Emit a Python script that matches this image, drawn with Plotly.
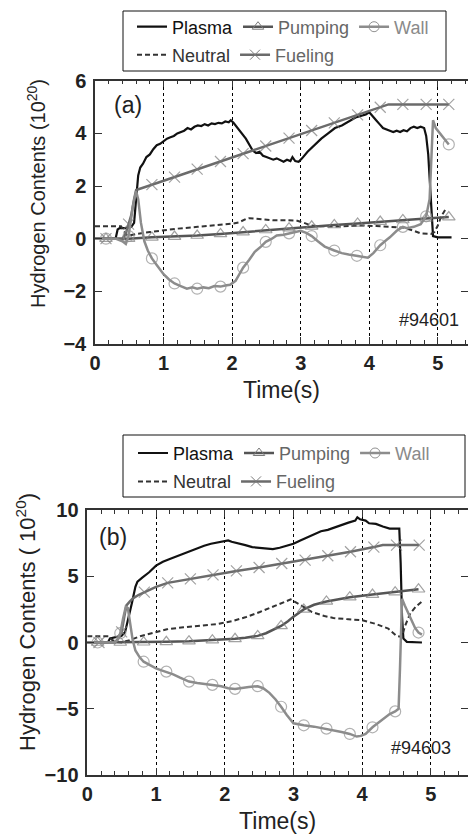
import plotly.graph_objects as go

W, H = 468, 835

# ---------------- Panel (a)  #94601 ----------------
t_plasma_a = [0, 0.30, 0.33, 0.36, 0.45, 0.53, 0.57, 0.60, 0.63, 0.66, 0.70, 0.75, 0.80, 0.85, 0.90, 0.95,
              1.00, 1.05, 1.10, 1.15, 1.20, 1.25, 1.30, 1.35, 1.40, 1.45, 1.50, 1.55, 1.60, 1.65, 1.70, 1.75,
              1.80, 1.85, 1.90, 1.95, 1.98, 2.02, 2.10, 2.20, 2.30, 2.35, 2.40, 2.45, 2.50, 2.55, 2.60, 2.65,
              2.70, 2.75, 2.80, 2.85, 2.88, 2.92, 2.97, 3.02, 3.10, 3.20, 3.30, 3.40, 3.50, 3.60, 3.70, 3.80,
              3.90, 3.95, 4.00, 4.03, 4.10, 4.15, 4.20, 4.30, 4.35, 4.40, 4.45, 4.50, 4.55, 4.60, 4.65, 4.70,
              4.75, 4.80, 4.83, 4.86, 4.89, 4.91, 4.93, 5.00, 5.20]
v_plasma_a = [0, 0, 0.35, 0.40, 0.40, 0.45, 0.60, 1.40, 2.40, 2.70, 2.85, 3.10, 3.20, 3.40, 3.55, 3.60,
              3.70, 3.80, 3.85, 3.90, 4.00, 4.05, 4.10, 4.20, 4.15, 4.25, 4.30, 4.28, 4.35, 4.30, 4.38, 4.35,
              4.40, 4.38, 4.45, 4.42, 4.50, 4.40, 4.15, 3.80, 3.35, 3.25, 3.30, 3.15, 3.10, 3.05, 3.00, 3.05,
              2.98, 2.92, 3.00, 2.95, 3.10, 2.95, 2.92, 3.05, 3.30, 3.55, 3.80, 4.00, 4.20, 4.30, 4.45, 4.60,
              4.68, 4.72, 4.80, 4.70, 4.50, 4.35, 4.20, 4.10, 4.05, 4.10, 4.05, 4.12, 4.08, 4.20, 4.25, 4.20,
              4.25, 4.20, 3.90, 3.20, 2.00, 1.00, 0.10, 0.05, 0.05]

t_neutral_a = [0, 0.38, 0.42, 0.46, 0.50, 0.60, 0.80, 1.00, 1.20, 1.50, 1.80, 2.00, 2.10, 2.20, 2.25, 2.40,
               2.60, 2.80, 2.95, 3.05, 3.15, 3.30, 3.50, 3.70, 3.90, 4.10, 4.30, 4.50, 4.65, 4.75, 4.90, 4.95,
               5.00, 5.05, 5.12]
v_neutral_a = [0.47, 0.47, 0.30, 0.15, 0.12, 0.18, 0.25, 0.32, 0.38, 0.45, 0.52, 0.57, 0.62, 0.75, 0.78, 0.74,
               0.70, 0.70, 0.68, 0.60, 0.50, 0.47, 0.46, 0.48, 0.50, 0.48, 0.45, 0.42, 0.30, 0.20, 0.18, 0.25,
               0.50, 0.85, 1.15]

t_pump_a = [0, 0.16, 0.49, 0.83, 1.16, 1.49, 1.83, 2.16, 2.49, 2.83, 3.16, 3.49, 3.83, 4.16, 4.49, 4.83, 5.16]
v_pump_a = [0, 0, 0, 0.05, 0.08, 0.12, 0.18, 0.25, 0.33, 0.40, 0.47, 0.52, 0.58, 0.65, 0.71, 0.77, 0.82]
mk_pump_a = [0.16, 0.49, 0.83, 1.16, 1.49, 1.83, 2.16, 2.49, 2.83, 3.16, 3.49, 3.83, 4.16, 4.49, 4.83, 5.16]

t_fuel_a = [0, 0.16, 0.40, 0.45, 0.49, 0.53, 0.57, 0.60, 0.83, 1.16, 1.49, 1.83, 2.16, 2.49, 2.83, 3.16,
            3.49, 3.83, 4.16, 4.28, 4.49, 4.83, 5.16]
v_fuel_a = [0, 0, 0, 0.20, 0.55, 0.90, 1.50, 1.85, 2.05, 2.34, 2.64, 2.93, 3.23, 3.52, 3.82, 4.11,
            4.40, 4.70, 4.99, 5.10, 5.10, 5.10, 5.10]
mk_fuel_a = [0.16, 0.49, 0.83, 1.16, 1.49, 1.83, 2.16, 2.49, 2.83, 3.16, 3.49, 3.83, 4.16, 4.49, 4.83, 5.16]

t_wall_a = [0, 0.16, 0.30, 0.40, 0.45, 0.49, 0.55, 0.60, 0.63, 0.67, 0.72, 0.77, 0.83, 0.90, 1.00, 1.08,
            1.16, 1.25, 1.34, 1.42, 1.49, 1.58, 1.66, 1.74, 1.83, 1.90, 1.97, 2.05, 2.16, 2.25, 2.33, 2.42,
            2.49, 2.58, 2.65, 2.75, 2.83, 2.90, 3.00, 3.08, 3.16, 3.25, 3.35, 3.49, 3.60, 3.70, 3.82, 3.90,
            3.98, 4.06, 4.16, 4.25, 4.30, 4.40, 4.49, 4.55, 4.65, 4.75, 4.83, 4.88, 4.91, 4.93, 4.97, 5.03,
            5.10, 5.16]
v_wall_a = [0, 0, 0, -0.10, -0.20, 0.10, 1.20, 1.80, 1.50, 0.60, -0.10, -0.45, -0.75, -1.00, -1.35, -1.55,
            -1.70, -1.80, -1.90, -1.85, -1.90, -1.85, -1.88, -1.80, -1.82, -1.78, -1.75, -1.60, -1.10, -0.80, -0.50, -0.30,
            -0.12, 0.00, 0.12, 0.15, 0.20, 0.25, 0.30, 0.22, 0.10, -0.10, -0.30, -0.45, -0.55, -0.60, -0.65, -0.70,
            -0.72, -0.55, -0.25, -0.05, 0.05, 0.30, 0.45, 0.40, 0.45, 0.55, 0.85, 1.50, 3.00, 4.50, 4.20, 4.00,
            3.80, 3.58]
mk_wall_a = [0.16, 0.49, 0.83, 1.16, 1.49, 1.83, 2.16, 2.49, 2.83, 3.16, 3.49, 3.82, 4.16, 4.49, 4.83, 5.16]

# ---------------- Panel (b)  #94603 ----------------
t_plasma_b = [0, 0.30, 0.33, 0.40, 0.50, 0.55, 0.60, 0.65, 0.70, 0.73, 0.80, 0.90, 1.00, 1.10, 1.20, 1.30,
              1.40, 1.50, 1.60, 1.70, 1.80, 1.90, 2.00, 2.05, 2.10, 2.20, 2.30, 2.40, 2.50, 2.60, 2.70, 2.80,
              2.90, 3.00, 3.10, 3.20, 3.30, 3.40, 3.50, 3.60, 3.70, 3.80, 3.90, 3.93, 3.97, 4.05, 4.10, 4.20,
              4.30, 4.40, 4.50, 4.54, 4.56, 4.58, 4.60, 4.65, 4.87]
v_plasma_b = [0, 0, 0.30, 0.40, 0.50, 0.80, 1.80, 3.00, 4.20, 4.60, 4.90, 5.30, 5.80, 6.10, 6.30, 6.50,
              6.70, 6.95, 7.10, 7.30, 7.45, 7.55, 7.65, 7.70, 7.60, 7.50, 7.35, 7.20, 7.15, 7.10, 7.05, 7.15,
              7.30, 7.45, 7.70, 7.95, 8.20, 8.40, 8.50, 8.70, 8.90, 9.05, 9.20, 9.45, 9.30, 9.20, 9.00, 8.95,
              8.75, 8.60, 8.60, 8.60, 6.00, 2.00, 0.30, 0.05, 0.00]

t_neutral_b = [0, 0.32, 0.36, 0.42, 0.50, 0.60, 0.77, 1.00, 1.16, 1.40, 1.64, 1.90, 2.12, 2.30, 2.51, 2.75,
               2.96, 3.08, 3.27, 3.45, 3.58, 3.80, 4.00, 4.20, 4.38, 4.50, 4.58, 4.62, 4.70, 4.78, 4.87]
v_neutral_b = [0.47, 0.47, 0.20, 0.05, 0.00, 0.15, 0.47, 0.80, 1.00, 1.15, 1.25, 1.40, 1.63, 1.90, 2.30, 2.80,
               3.25, 2.90, 2.30, 2.00, 1.85, 1.75, 1.68, 1.40, 1.05, 0.50, 0.42, 1.20, 2.20, 2.70, 3.10]

t_pump_b = [0, 0.15, 0.48, 0.82, 1.15, 1.48, 1.82, 2.15, 2.30, 2.48, 2.60, 2.70, 2.82, 2.92, 3.00, 3.15,
            3.30, 3.48, 3.65, 3.82, 4.15, 4.48, 4.82]
v_pump_b = [0, 0, 0, 0.02, 0.05, 0.10, 0.18, 0.28, 0.36, 0.50, 0.70, 0.95, 1.25, 1.60, 1.95, 2.50,
            2.85, 3.10, 3.28, 3.42, 3.62, 3.80, 4.02]
mk_pump_b = [0.15, 0.48, 0.82, 1.15, 1.48, 1.82, 2.15, 2.48, 2.82, 3.15, 3.48, 3.82, 4.15, 4.48, 4.82]

t_fuel_b = [0, 0.17, 0.40, 0.45, 0.50, 0.54, 0.57, 0.62, 0.67, 0.75, 0.83, 1.00, 1.17, 1.33, 1.50, 1.83,
            2.17, 2.50, 2.83, 3.17, 3.50, 3.83, 4.17, 4.30, 4.50, 4.83]
v_fuel_b = [0, 0, 0, 0.30, 0.80, 2.00, 2.80, 3.10, 3.35, 3.60, 3.80, 4.20, 4.50, 4.65, 4.80, 5.10,
            5.40, 5.66, 5.96, 6.22, 6.55, 6.85, 7.20, 7.35, 7.35, 7.35]
mk_fuel_b = [0.17, 0.50, 0.83, 1.17, 1.50, 1.83, 2.17, 2.50, 2.83, 3.17, 3.50, 3.83, 4.17, 4.50, 4.83]

t_wall_b = [0, 0.15, 0.40, 0.44, 0.48, 0.52, 0.56, 0.59, 0.62, 0.66, 0.70, 0.76, 0.82, 0.90, 1.00, 1.08,
            1.15, 1.25, 1.35, 1.48, 1.60, 1.70, 1.82, 1.95, 2.05, 2.15, 2.25, 2.35, 2.48, 2.56, 2.65, 2.74,
            2.82, 2.90, 3.00, 3.08, 3.15, 3.30, 3.40, 3.48, 3.60, 3.70, 3.82, 3.92, 3.98, 4.05, 4.15, 4.30,
            4.40, 4.48, 4.53, 4.55, 4.58, 4.62, 4.67, 4.72, 4.77, 4.82, 4.87]
v_wall_b = [0, 0, 0, 0.20, 0.70, 1.80, 2.70, 2.60, 1.50, 0.20, -0.60, -1.10, -1.45, -1.70, -1.95, -2.10,
            -2.20, -2.40, -2.65, -2.95, -3.05, -3.10, -3.20, -3.30, -3.45, -3.50, -3.40, -3.35, -3.30, -3.45, -3.80, -4.30,
            -4.85, -5.45, -6.10, -6.20, -6.25, -6.35, -6.45, -6.50, -6.60, -6.75, -6.90, -7.10, -7.05, -6.90, -6.40, -5.80,
            -5.40, -5.20, -5.00, -2.00, 3.30, 2.80, 2.20, 1.60, 1.10, 0.75, 0.60]
mk_wall_b = [0.15, 0.48, 0.82, 1.15, 1.48, 1.82, 2.15, 2.48, 2.82, 3.15, 3.48, 3.82, 4.15, 4.48, 4.82]

x_ticks = [0, 1, 2, 3, 4, 5]
y_ticks_a = [-4, -2, 0, 2, 4, 6]
y_ticks_b = [-10, -5, 0, 5, 10]

# ---------------- styles ----------------
FONT = "Liberation Sans, Arial, Helvetica, sans-serif"
C_PLASMA, C_PUMP, C_WALL, C_NEUT, C_FUEL = "#111111", "#555555", "#8c8c8c", "#333333", "#6b6b6b"
MK_PUMP, MK_WALL, MK_FUEL = "#7a7a7a", "#909090", "#7a7a7a"
MS = 11

series_style = {
    "Plasma":  dict(color=C_PLASMA, width=2.2, dash="solid", symbol=None, mcolor=None, tcolor="#111111"),
    "Pumping": dict(color=C_PUMP, width=2.5, dash="solid", symbol="triangle-up-open", mcolor=MK_PUMP, tcolor="#666666"),
    "Wall":    dict(color=C_WALL, width=2.5, dash="solid", symbol="circle-open", mcolor=MK_WALL, tcolor="#8a8a8a"),
    "Neutral": dict(color=C_NEUT, width=2.0, dash="5px,3px", symbol=None, mcolor=None, tcolor="#333333"),
    "Fueling": dict(color=C_FUEL, width=2.5, dash="solid", symbol="x-thin-open", mcolor=MK_FUEL, tcolor="#666666"),
}


def sizes(ts, marks):
    return [MS if any(abs(t - m) < 1e-9 for m in marks) else 0 for t in ts]


fig = go.Figure()


def add_series(name, ts, vs, marks, xa, ya):
    st = series_style[name]
    line = dict(color=st["color"], width=st["width"], dash=st["dash"])
    if st["symbol"]:
        fig.add_trace(go.Scatter(
            x=ts, y=vs, mode="lines+markers", line=line, showlegend=False, name=name,
            marker=dict(symbol=st["symbol"], size=sizes(ts, marks), color=st["mcolor"],
                        line=dict(color=st["mcolor"], width=1.2)),
            xaxis=xa, yaxis=ya, hoverinfo="skip"))
    else:
        fig.add_trace(go.Scatter(x=ts, y=vs, mode="lines", line=line, showlegend=False, name=name,
                                 xaxis=xa, yaxis=ya, hoverinfo="skip"))


def add_legend_entry(name, xa, ya, legend):
    st = series_style[name]
    line = dict(color=st["color"], width=st["width"], dash=st["dash"])
    label = '<span style="color:%s">%s</span>' % (st["tcolor"], name)
    if st["symbol"]:
        fig.add_trace(go.Scatter(
            x=[None], y=[None], mode="lines+markers", line=line, name=label, legend=legend,
            marker=dict(symbol=st["symbol"], size=MS - 1, color=st["mcolor"],
                        line=dict(color=st["mcolor"], width=1)),
            xaxis=xa, yaxis=ya))
    else:
        fig.add_trace(go.Scatter(x=[None], y=[None], mode="lines", line=line, name=label, legend=legend,
                                 xaxis=xa, yaxis=ya))


# panel (a)
add_series("Plasma", t_plasma_a, v_plasma_a, [], "x", "y")
add_series("Neutral", t_neutral_a, v_neutral_a, [], "x", "y")
add_series("Pumping", t_pump_a, v_pump_a, mk_pump_a, "x", "y")
add_series("Fueling", t_fuel_a, v_fuel_a, mk_fuel_a, "x", "y")
add_series("Wall", t_wall_a, v_wall_a, mk_wall_a, "x", "y")
# panel (b)
add_series("Plasma", t_plasma_b, v_plasma_b, [], "x2", "y2")
add_series("Neutral", t_neutral_b, v_neutral_b, [], "x2", "y2")
add_series("Pumping", t_pump_b, v_pump_b, mk_pump_b, "x2", "y2")
add_series("Fueling", t_fuel_b, v_fuel_b, mk_fuel_b, "x2", "y2")
add_series("Wall", t_wall_b, v_wall_b, mk_wall_b, "x2", "y2")

for nm in ["Plasma", "Pumping", "Wall"]:
    add_legend_entry(nm, "x", "y", "legend")
for nm in ["Neutral", "Fueling"]:
    add_legend_entry(nm, "x", "y", "legend2")
for nm in ["Plasma", "Pumping", "Wall"]:
    add_legend_entry(nm, "x2", "y2", "legend3")
for nm in ["Neutral", "Fueling"]:
    add_legend_entry(nm, "x2", "y2", "legend4")


def px(x):
    return x / W


def py(y):
    return 1 - y / H


tickfont = dict(family=FONT, size=20, color="#222222", weight="bold")
common_x = dict(tickvals=x_ticks, ticks="inside", ticklen=7, tickwidth=1.2, tickcolor="#333333",
                showline=True, linecolor="#333333", linewidth=1.5, mirror="ticks", automargin=False,
                showgrid=True, gridcolor="#000000", griddash="dot", gridwidth=1, zeroline=False,
                tickfont=tickfont,
                minor=dict(dtick=0.2, ticks="inside", ticklen=4, tickcolor="#333333", tickwidth=1, showgrid=False),
                title=dict(text="Time(s)", font=dict(family=FONT, size=23, color="#222222"), standoff=9))
common_y = dict(ticks="inside", ticklen=7, tickwidth=1.2, tickcolor="#333333", automargin=False,
                showline=True, linecolor="#333333", linewidth=1.5, mirror="ticks",
                showgrid=False, zeroline=False, tickfont=tickfont, ticklabelstandoff=3)

legend_common = dict(orientation="h", xanchor="left", yanchor="middle", bgcolor="rgba(0,0,0,0)",
                     borderwidth=0, font=dict(family=FONT, size=18, color="#111111"),
                     traceorder="normal", itemclick=False, itemdoubleclick=False)


def note(text, x, y, size, angle=0):
    return dict(text=text, x=px(x), y=py(y), xref="paper", yref="paper", showarrow=False,
                xanchor="center", yanchor="middle", textangle=angle,
                font=dict(family=FONT, size=size, color="#222222"))


fig.update_layout(
    width=W, height=H, margin=dict(l=0, r=0, t=0, b=0, pad=0, autoexpand=False),
    paper_bgcolor="white", plot_bgcolor="white",
    font=dict(family=FONT, color="#222222"),
    xaxis=dict(domain=[px(95), 1.0], range=[0, 5.44], anchor="y", **common_x),
    yaxis=dict(domain=[py(344), py(80.7)], range=[-4, 6], tickvals=y_ticks_a, anchor="x", **common_y),
    xaxis2=dict(domain=[px(87.3), 1.0], range=[0, 5.54], anchor="y2", **common_x),
    yaxis2=dict(domain=[py(775), py(510)], range=[-10, 10], tickvals=y_ticks_b, anchor="x2", **common_y),
    legend=dict(x=px(132), y=py(27), **legend_common),
    legend2=dict(x=px(132), y=py(55), **legend_common),
    legend3=dict(x=px(133), y=py(453.3), **legend_common),
    legend4=dict(x=px(133), y=py(481.7), **legend_common),
    shapes=[
        dict(type="rect", xref="paper", yref="paper", x0=px(123), x1=px(446), y0=py(71), y1=py(11),
             line=dict(color="#111111", width=1)),
        dict(type="rect", xref="paper", yref="paper", x0=px(123), x1=px(465), y0=py(497), y1=py(435),
             line=dict(color="#111111", width=1)),
    ],
    annotations=[
        note("Hydrogen Contents (10<sup>20</sup>)", 36, 194, 20, -90),
        note("Hydrogen Contents ( 10<sup>20</sup>)", 26, 622, 22, -90),
        note("(a)", 127.7, 105, 23),
        note("(b)", 113.3, 536.7, 23),
        note("#94601", 428.5, 320, 18),
        note("#94603", 421.3, 748.3, 18),
    ],
)

# the page body keeps no default margin, so the figure sits at the window's top-left corner
fig.write_html("out.html",
               config={"displayModeBar": False, "staticPlot": False},
               post_script="document.body.style.margin='0px';document.body.style.overflow='hidden';")
